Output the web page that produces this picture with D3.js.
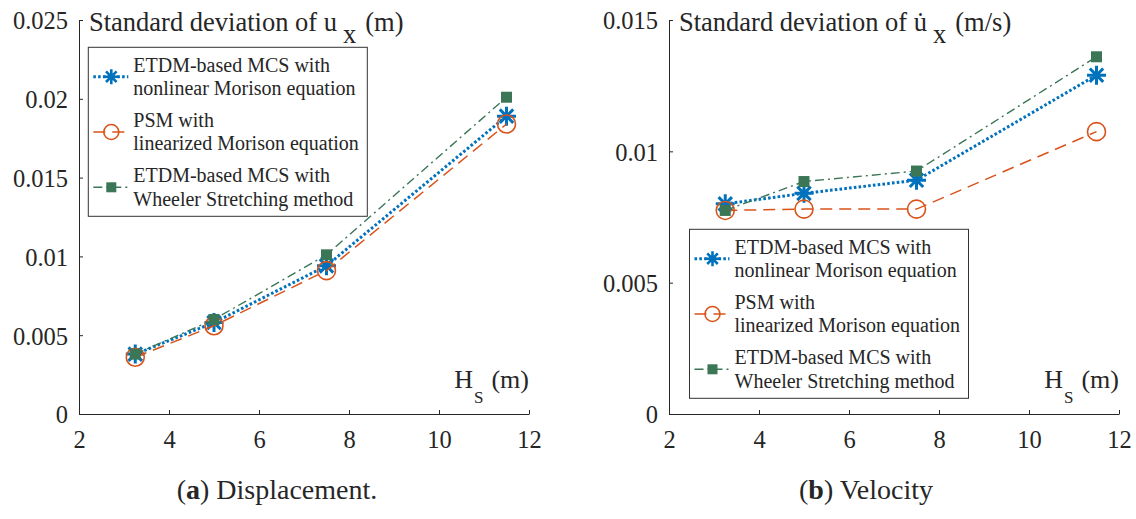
<!DOCTYPE html>
<html>
<head>
<meta charset="utf-8">
<script src="https://cdn.jsdelivr.net/npm/d3@7"></script>
<style>
  html, body { margin: 0; padding: 0; background: #fff; }
  svg { display: block; }
  svg text { font-family: "Liberation Serif", Tinos, "Times New Roman", Times, "DejaVu Serif", serif !important; fill: #262626; }
</style>
</head>
<body>
<svg id="chart" width="1136" height="519"></svg>
<script>
// ---------------- data ----------------
const Hs = [3.25, 5, 7.5, 11.5];

const dispETDM    = [0.0038, 0.0058, 0.0094, 0.0189];
const dispPSM     = [0.0036, 0.0056, 0.0091, 0.0184];
const dispWheeler = [0.0038, 0.0060, 0.0101, 0.0201];

const velETDM     = [0.0080, 0.0084, 0.0089, 0.0129];
const velPSM      = [0.00775, 0.0078, 0.0078, 0.01075];
const velWheeler  = [0.00775, 0.00885, 0.00925, 0.0136];

const xTicks = [2, 4, 6, 8, 10, 12];
const xTickLabels = ["2", "4", "6", "8", "10", "12"];
const yTicksDisp = [0, 0.005, 0.01, 0.015, 0.02, 0.025];
const yTickLabelsDisp = ["0", "0.005", "0.01", "0.015", "0.02", "0.025"];
const yTicksVel = [0, 0.005, 0.01, 0.015];
const yTickLabelsVel = ["0", "0.005", "0.01", "0.015"];

const seriesNames = [
  ["ETDM-based MCS with", "nonlinear Morison equation"],
  ["PSM with", "linearized Morison equation"],
  ["ETDM-based MCS with", "Wheeler Stretching method"]
];
const seriesKinds = ["asterisk", "circle", "square"];
const seriesColors = ["#0072BD", "#D95319", "#3B7657"];

// ---------------- drawing ----------------
const FONT = '"Liberation Serif", Tinos, "Times New Roman", Times, "DejaVu Serif", serif';
const svg = d3.select("#chart");
svg.append("rect").attr("width", 1136).attr("height", 519).attr("fill", "#fff");

const lineStyles = [
  { width: 3, dash: "2.6,2.2" },
  { width: 1.5, dash: "12,7" },
  { width: 1.4, dash: "9,4,2,4" }
];

function marker(g, kind, cx, cy, color, big) {
  if (kind === "asterisk") {
    const r = big ? 9.5 : 7.5;
    const d = r * Math.SQRT1_2;
    const p = d3.path();
    p.moveTo(cx - r, cy); p.lineTo(cx + r, cy);
    p.moveTo(cx, cy - r); p.lineTo(cx, cy + r);
    p.moveTo(cx - d, cy - d); p.lineTo(cx + d, cy + d);
    p.moveTo(cx - d, cy + d); p.lineTo(cx + d, cy - d);
    g.append("path").attr("d", p.toString()).attr("stroke", color)
      .attr("stroke-width", big ? 3 : 2.6).attr("fill", "none");
  } else if (kind === "circle") {
    g.append("circle").attr("cx", cx).attr("cy", cy).attr("r", big ? 9 : 7.5)
      .attr("fill", "none").attr("stroke", color).attr("stroke-width", 1.6);
  } else {
    const s = big ? 11 : 10;
    g.append("rect").attr("x", cx - s / 2).attr("y", cy - s / 2)
      .attr("width", s).attr("height", s).attr("fill", color);
  }
}

function panel(cfg) {
  const g = svg.append("g").attr("font-family", FONT);
  const x = d3.scaleLinear().domain([2, 12]).range([cfg.x0, cfg.x0 + 450]);
  const y = d3.scaleLinear().domain([0, cfg.ymax]).range([414, 20]);

  // axes
  const xa = g.append("g").attr("transform", "translate(0,414)")
    .call(d3.axisBottom(x).tickValues(xTicks)
      .tickFormat((d, i) => xTickLabels[i])
      .tickSizeInner(-4).tickSizeOuter(0).tickPadding(17));
  const ya = g.append("g").attr("transform", `translate(${cfg.x0},0)`)
    .call(d3.axisLeft(y).tickValues(cfg.yTicks)
      .tickFormat((d, i) => cfg.yLabels[i])
      .tickSizeInner(-4).tickSizeOuter(0).tickPadding(11));
  [xa, ya].forEach(a => {
    a.attr("font-family", FONT).attr("font-size", 24.5);
    a.select(".domain").attr("stroke", "#262626").attr("stroke-width", 1);
    a.selectAll(".tick line").attr("stroke", "#262626").attr("stroke-width", 1);
    a.selectAll("text").attr("fill", "#262626");
  });
  ya.selectAll("text").attr("dy", "0.36em");

  // title inside axes
  const t = g.append("text").attr("x", cfg.x0 + 10).attr("y", 31)
    .attr("font-size", 26.5);
  t.append("tspan").text("Standard deviation of ");
  const tu = t.append("tspan").text("u");
  let td = null;
  if (cfg.dot) td = t.append("tspan").text("\u02D9");
  const tx = t.append("tspan").attr("dx", 6).attr("dy", 12).text("x");
  t.append("tspan").attr("dx", 9).attr("dy", -12).text(cfg.unit);
  if (td) {
    const uw = tu.node().getComputedTextLength();
    const dw = td.node().getComputedTextLength();
    td.attr("dx", -(uw + dw) / 2);
    tx.attr("dx", 6 + (uw - dw) / 2);
  }

  // x label
  const xl = g.append("text").attr("x", cfg.x0 + 450).attr("y", 388)
    .attr("text-anchor", "end").attr("font-size", 26);
  xl.append("tspan").text("H");
  xl.append("tspan").attr("font-size", 17).attr("dx", 1).attr("dy", 15).text("S");
  xl.append("tspan").attr("dx", 8).attr("dy", -15).text("(m)");

  // series
  cfg.series.forEach((vals, k) => {
    const pts = Hs.map((h, i) => [x(h), y(vals[i])]);
    g.append("path").attr("d", d3.line()(pts)).attr("fill", "none")
      .attr("stroke", seriesColors[k]).attr("stroke-width", lineStyles[k].width)
      .attr("stroke-dasharray", lineStyles[k].dash);
    pts.forEach(p => marker(g, seriesKinds[k], p[0], p[1], seriesColors[k], true));
  });

  // legend
  const lx = cfg.x0 + cfg.legX, ly = cfg.legY;
  const lg = g.append("g");
  lg.append("rect").attr("x", lx).attr("y", ly).attr("width", 279).attr("height", 169)
    .attr("fill", "#fff").attr("stroke", "#333").attr("stroke-width", 1);
  seriesNames.forEach((nm, k) => {
    const my = ly + 29.4 + k * 55.3;
    lg.append("line").attr("x1", lx + 5).attr("x2", lx + 40)
      .attr("y1", my).attr("y2", my)
      .attr("stroke", seriesColors[k]).attr("stroke-width", lineStyles[k].width)
      .attr("stroke-dasharray", lineStyles[k].dash);
    marker(lg, seriesKinds[k], lx + 23, my, seriesColors[k], false);
    nm.forEach((s, j) => {
      lg.append("text").attr("x", lx + 45).attr("y", ly + 24.4 + k * 55.2 + j * 23.4)
        .attr("font-size", 20).text(s);
    });
  });

  // caption
  const c = svg.append("text").attr("x", cfg.capX).attr("y", 499)
    .attr("font-family", FONT)
    .attr("text-anchor", "middle").attr("font-size", 28);
  c.append("tspan").text("(");
  c.append("tspan").attr("font-weight", "bold").text(cfg.capLetter);
  c.append("tspan").text(") " + cfg.capText);
}

panel({
  x0: 79, ymax: 0.025, yTicks: yTicksDisp, yLabels: yTickLabelsDisp,
  unit: "(m)", dot: false,
  series: [dispETDM, dispPSM, dispWheeler],
  legX: 9.3, legY: 47.3,
  capX: 277, capLetter: "a", capText: "Displacement."
});
panel({
  x0: 669, ymax: 0.015, yTicks: yTicksVel, yLabels: yTickLabelsVel,
  unit: "(m/s)", dot: true,
  series: [velETDM, velPSM, velWheeler],
  legX: 20.5, legY: 229.3,
  capX: 866, capLetter: "b", capText: "Velocity"
});
</script>
</body>
</html>
